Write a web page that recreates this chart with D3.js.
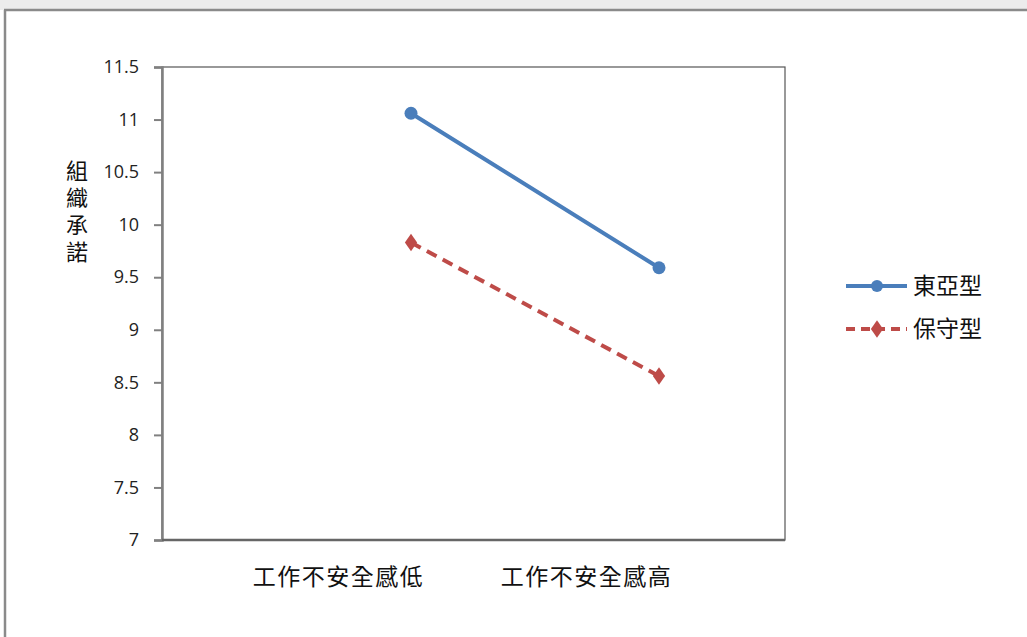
<!DOCTYPE html>
<html><head><meta charset="utf-8">
<script src="https://cdn.jsdelivr.net/npm/d3@7"></script>
<style>
html,body{margin:0;padding:0;background:#fff;}
svg{display:block;}
</style></head>
<body>
<svg id="c" width="1027" height="637"></svg>
<script>
const categories = ["工作不安全感低", "工作不安全感高"];
const seriesNames = ["東亞型", "保守型"];
const eastAsian = [11.06, 9.59];
const conservative = [9.83, 8.56];
const yTicks = [7, 7.5, 8, 8.5, 9, 9.5, 10, 10.5, 11, 11.5];
const yTitle = "組織承諾";

const svg = d3.select("#c");
const cjk = "'Noto Sans CJK TC','Noto Sans CJK SC',sans-serif";
const num = "'Open Sans','Noto Sans',sans-serif";

// page frame + faint watermark strip
svg.append("rect").attr("x",0).attr("y",0).attr("width",1027).attr("height",10).attr("fill","#ececec");
svg.append("line").attr("x1",4).attr("x2",1027).attr("y1",10).attr("y2",10).attr("stroke","#8a8a8a").attr("stroke-width",2.5);
svg.append("line").attr("x1",5).attr("x2",5).attr("y1",10).attr("y2",637).attr("stroke","#8a8a8a").attr("stroke-width",2.5);

const plot = {l:162, r:785, t:67, b:540};
const y = d3.scaleLinear().domain([7, 11.5]).range([plot.b, plot.t]);
const xLab = d3.scalePoint().domain(categories).range([338, 586]);
const markShift = 73;
const x = c => xLab(c) + markShift;

// plot border
svg.append("rect").attr("x",plot.l).attr("y",plot.t).attr("width",plot.r-plot.l).attr("height",plot.b-plot.t)
  .attr("fill","none").attr("stroke","#555").attr("stroke-width",1.2);

// y axis
const yAxis = d3.axisLeft(y).tickValues(yTicks).tickSize(8).tickPadding(15).tickFormat(d=>String(d));
const ga = svg.append("g").attr("transform",`translate(${plot.l},0)`).call(yAxis);
ga.select(".domain").attr("stroke","#808080").attr("stroke-width",2.5);
ga.selectAll(".tick line").attr("stroke","#808080").attr("stroke-width",2);
ga.selectAll(".tick text").attr("font-family",num).attr("font-size",18).attr("fill","#222");
// bottom axis line
svg.append("line").attr("x1",plot.l).attr("x2",plot.r).attr("y1",plot.b).attr("y2",plot.b).attr("stroke","#666").attr("stroke-width",2.5);

// x labels
const gx = svg.append("g").attr("transform",`translate(0,${plot.b})`)
  .call(d3.axisBottom(xLab).tickSize(0).tickPadding(29));
gx.select(".domain").remove();
gx.selectAll(".tick text").attr("font-family",cjk).attr("font-size",23).attr("fill","#111").attr("letter-spacing","1.5px");

// y title, vertical upright
svg.append("text").attr("x",77).attr("y",160)
  .attr("font-family",cjk).attr("font-size",22).attr("fill","#111")
  .style("writing-mode","vertical-rl").style("text-orientation","upright")
  .attr("letter-spacing","5px").text(yTitle);

const blue = "#4A7EBB", red = "#BE4B48";
const line = d3.line().x((d,i)=>x(categories[i])).y(d=>y(d));

svg.append("path").datum(eastAsian).attr("d",line).attr("fill","none").attr("stroke",blue).attr("stroke-width",4).attr("stroke-linecap","round");
svg.append("path").datum(conservative).attr("d",line).attr("fill","none").attr("stroke",red).attr("stroke-width",4).attr("stroke-dasharray","11,7");

svg.selectAll(".bm").data(eastAsian).enter().append("circle")
  .attr("cx",(d,i)=>x(categories[i])).attr("cy",d=>y(d)).attr("r",6.5).attr("fill",blue);
const diamond = d3.symbol().type(d3.symbolDiamond).size(90);
svg.selectAll(".rm").data(conservative).enter().append("path")
  .attr("d",diamond).attr("transform",(d,i)=>`translate(${x(categories[i])},${y(d)}) scale(1.2,1)`).attr("fill",red);

// legend
const leg = svg.append("g");
const legY = d3.scalePoint().domain(seriesNames).range([286, 329]);
const styles = {"東亞型":{c:blue,dash:null,m:"c"}, "保守型":{c:red,dash:"9,6",m:"d"}};
seriesNames.forEach(n=>{
  const s = styles[n], yy = legY(n);
  leg.append("line").attr("x1",846).attr("x2",907).attr("y1",yy).attr("y2",yy)
    .attr("stroke",s.c).attr("stroke-width",4).attr("stroke-dasharray",s.dash);
  if(s.m==="c") leg.append("circle").attr("cx",877).attr("cy",yy).attr("r",6).attr("fill",s.c);
  else leg.append("path").attr("d",diamond).attr("transform",`translate(877,${yy}) scale(1.2,1)`).attr("fill",s.c);
  leg.append("text").attr("x",913).attr("y",yy).attr("dy","0.36em").attr("font-family",cjk).attr("font-size",23).attr("fill","#111").text(n);
});
</script>
</body></html>
